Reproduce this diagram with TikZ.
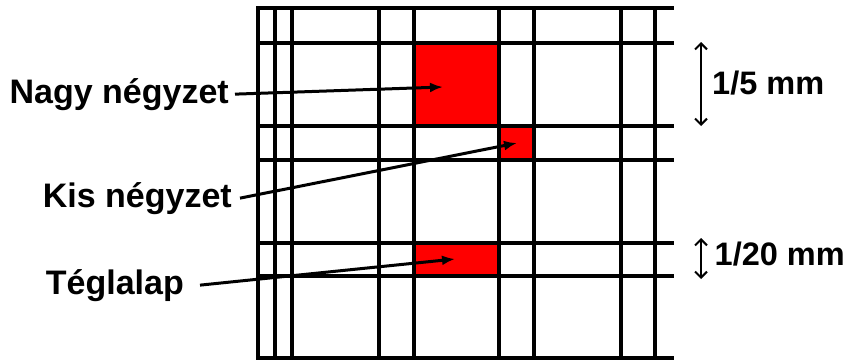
\documentclass[tikz,border=0pt]{standalone}
\usepackage{fontspec}
\setmainfont{Liberation Sans}
\usetikzlibrary{arrows.meta}
\begin{document}
\begin{tikzpicture}[x=1pt,y=-1pt,
  gridline/.style={line width=3.2pt, black, line cap=rect},
  lbl/.style={font=\bfseries\fontsize{34}{40}\selectfont, inner sep=0pt},
  dimlbl/.style={font=\bfseries\fontsize{32.5}{40}\selectfont, inner sep=0pt},
  ptr/.style={line width=3pt, -{Latex[length=13pt,width=10pt]}},
  dimarrow/.style={line width=2pt, {Straight Barb[length=6pt,width=12pt]}-{Straight Barb[length=6pt,width=12pt]}}]
\useasboundingbox[fill=white] (0,0) rectangle (850,362);
% red cells
\fill[red] (413,43) rectangle (498,126);
\fill[red] (498,126) rectangle (535,160);
\fill[red] (413,243) rectangle (498,276);
% grid
\foreach \x in {258,275,292,379,414,499,534,621,655}
  \draw[gridline] (\x,8) -- (\x,358);
\foreach \y in {8,43,126,160,243,276,358}
  \draw[gridline] (258,\y) -- (672,\y);
% labels
\node[lbl, anchor=base east] (nagy) at (229,103) {Nagy négyzet};
\node[lbl, anchor=base east] (kis) at (232,207) {Kis négyzet};
\node[lbl, anchor=base east] (tegl) at (184,294) {Téglalap};
\node[dimlbl, anchor=base west] (d1) at (712,94) {1/5 mm};
\node[dimlbl, anchor=base east] (d2) at (845,265) {1/20 mm};
% pointer targets
\coordinate (t1) at (443,87);
\coordinate (t2) at (517,143);
\coordinate (t3) at (455,259);
\draw[ptr] ([xshift=6pt]nagy.east) -- (t1);
\draw[ptr] ([xshift=8pt]kis.east) -- (t2);
\draw[ptr] ([xshift=16pt]tegl.east) -- (t3);
% dimension arrows
\coordinate (a1) at (701,42);
\coordinate (b1) at (701,126);
\coordinate (a2) at (701,238);
\coordinate (b2) at (701,279);
\draw[dimarrow] (a1) -- (b1);
\draw[dimarrow] (a2) -- (b2);
\end{tikzpicture}
\end{document}
